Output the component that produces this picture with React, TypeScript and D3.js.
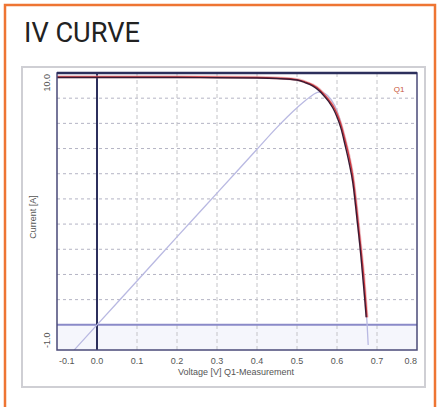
import * as d3 from "d3";

// axis ticks
const xTicks = [-0.1, 0, 0.1, 0.2, 0.3, 0.4, 0.5, 0.6, 0.7, 0.8];
const xTickLabels = ["-0.1", "0.0", "0.1", "0.2", "0.3", "0.4", "0.5", "0.6", "0.7", "0.8"];
const yGrid = [1, 2, 3, 4, 5, 6, 7, 8, 9];
const yEndLabels = ["-1.0", "10.0"];

// measured IV curve (V, A)
const ivVoltage = [-0.1, 0, 0.1, 0.2, 0.3, 0.4, 0.45, 0.5, 0.52, 0.54, 0.555, 0.565, 0.58, 0.59, 0.6, 0.61, 0.62, 0.63, 0.64, 0.65, 0.66, 0.665, 0.67, 0.673];
const ivCurrent = [9.82, 9.82, 9.82, 9.82, 9.81, 9.8, 9.78, 9.72, 9.62, 9.48, 9.3, 9.14, 8.85, 8.6, 8.25, 7.8, 7.15, 6.45, 5.6, 4.2, 2.7, 1.8, 0.9, 0.3];

// model IV curve (V, A)
const modelVoltage = [-0.1, 0, 0.1, 0.2, 0.3, 0.4, 0.45, 0.5, 0.52, 0.54, 0.555, 0.565, 0.58, 0.59, 0.6, 0.61, 0.62, 0.63, 0.64, 0.65, 0.66, 0.667, 0.672, 0.675];
const modelCurrent = [9.85, 9.85, 9.85, 9.85, 9.84, 9.83, 9.8, 9.74, 9.65, 9.52, 9.36, 9.2, 8.92, 8.7, 8.38, 7.95, 7.35, 6.7, 5.85, 4.5, 3.0, 1.9, 0.9, 0.3];

// power curve (V, scaled units)
const powerVoltage = [-0.057, 0, 0.1, 0.2, 0.3, 0.4, 0.45, 0.5, 0.53, 0.555, 0.57, 0.585, 0.6, 0.61, 0.62, 0.63, 0.64, 0.65, 0.66, 0.67, 0.675, 0.678];
const powerValue = [-1.0, 0, 1.74, 3.49, 5.23, 6.97, 7.84, 8.62, 9.02, 9.24, 9.18, 8.95, 8.5, 8.0, 7.4, 6.7, 5.9, 4.6, 3.0, 1.2, 0.1, -0.8];

export default function App() {
  const W = 441;
  const H = 407;
  const left = 57, right = 417, top = 73, bottom = 350;

  const x = d3.scaleLinear().domain([-0.1, 0.8]).range([left, right]);
  const y = d3.scaleLinear().domain([-1, 10]).range([bottom, top]);

  const line = d3.line<[number, number]>()
    .x(d => x(d[0]))
    .y(d => y(d[1]))
    .curve(d3.curveMonotoneX);

  const ivPts = ivVoltage.map((v, i) => [v, ivCurrent[i]] as [number, number]);
  const modelPts = modelVoltage.map((v, i) => [v, modelCurrent[i]] as [number, number]);
  const powerPts = powerVoltage.map((v, i) => [v, powerValue[i]] as [number, number]);

  const tickFont = "Liberation Sans, Arial, sans-serif";

  return (
    <svg width={W} height={H} style={{ position: "absolute", left: 0, top: 0 }}>
      <rect x={0} y={0} width={W} height={H} fill="#fff" />
      {/* orange frame */}
      <rect x={5} y={5} width={430} height={420} fill="none" stroke="#ee7533" strokeWidth={2.5} />
      <text x={24} y={42} fontFamily="Roboto, sans-serif" fontSize={27} fill="#222" textLength={116} lengthAdjust="spacingAndGlyphs">IV CURVE</text>

      {/* chart panel */}
      <rect x={22} y={67} width={403} height={320} fill="#fff" stroke="#cfcfd4" strokeWidth={2} />

      <defs>
        <clipPath id="plotClip">
          <rect x={left} y={top} width={right - left} height={bottom - top} />
        </clipPath>
      </defs>

      {/* below zero tint */}
      <rect x={left} y={y(0)} width={right - left} height={bottom - y(0)} fill="#f5f6fc" />

      {/* grid */}
      <g stroke="#b4b4c4" strokeWidth={1} strokeDasharray="3,3">
        {yGrid.map(v => (
          <line key={"h" + v} x1={left} x2={right} y1={y(v)} y2={y(v)} />
        ))}
      </g>
      <g stroke="#c4c4c8" strokeWidth={1} strokeDasharray="4,3">
        {xTicks.filter(v => v > 0.05 && v < 0.75).map(v => (
          <line key={"v" + v} x1={x(v)} x2={x(v)} y1={top} y2={bottom} />
        ))}
      </g>

      {/* zero lines */}
      <line x1={left} x2={right} y1={y(0)} y2={y(0)} stroke="#8a8ac8" strokeWidth={2} />
      <line x1={x(0)} x2={x(0)} y1={top} y2={bottom} stroke="#2c2f5c" strokeWidth={2} />

      <g clipPath="url(#plotClip)" fill="none">
        <path d={line(powerPts) ?? ""} stroke="#b9b9e2" strokeWidth={1.3} />
        <path d={line(modelPts) ?? ""} stroke="#e39aa0" strokeWidth={3} opacity={0.6} />
        <path d={line(modelPts) ?? ""} stroke="#d2353a" strokeWidth={1.3} />
        <path d={line(ivPts) ?? ""} stroke="#3a1a33" strokeWidth={1.4} />
      </g>

      {/* plot border */}
      <rect x={left} y={top} width={right - left} height={bottom - top} fill="none" stroke="#4a4a78" strokeWidth={1.5} />
      <line x1={left} x2={right} y1={top} y2={top} stroke="#2c2f5c" strokeWidth={2.5} />

      {/* legend label */}
      <text x={399} y={92} fontFamily={tickFont} fontSize={8} fill="#c8553a" textAnchor="middle">Q1</text>

      {/* x tick labels */}
      <g fontFamily={tickFont} fontSize={9} fill="#555">
        {xTicks.map((v, i) => (
          <text
            key={"xt" + v}
            x={i === 0 ? x(v) + 2 : i === xTicks.length - 1 ? x(v) : x(v)}
            y={364}
            textAnchor={i === 0 ? "start" : i === xTicks.length - 1 ? "end" : "middle"}
          >
            {xTickLabels[i]}
          </text>
        ))}
        <text x={236} y={375} textAnchor="middle">Voltage [V] Q1-Measurement</text>
      </g>

      {/* y labels */}
      <g fontFamily={tickFont} fontSize={9} fill="#555">
        <text transform={`translate(50,${y(10) + 1}) rotate(-90)`} textAnchor="end">{yEndLabels[1]}</text>
        <text transform={`translate(50,${y(-1) - 2}) rotate(-90)`} textAnchor="start">{yEndLabels[0]}</text>
        <text transform="translate(36,217) rotate(-90)" textAnchor="middle">Current [A]</text>
      </g>
    </svg>
  );
}
